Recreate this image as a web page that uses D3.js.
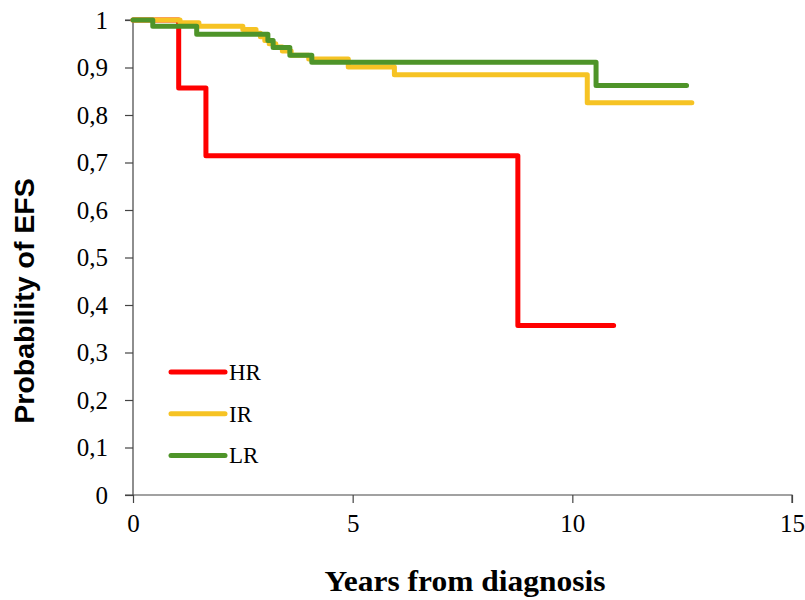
<!DOCTYPE html>
<html>
<head>
<meta charset="utf-8">
<script src="https://cdn.jsdelivr.net/npm/d3@7"></script>
<style>
  html, body { margin: 0; padding: 0; background: #ffffff; }
  svg { display: block; }
</style>
</head>
<body>
<svg id="chart" width="805" height="600"></svg>
<script>
// ---- data ----
const seriesNames = ["HR", "IR", "LR"];
const hrTimes  = [0, 1.04, 1.66, 8.76, 10.94];
const hrValues = [1, 0.857, 0.714, 0.357, 0.357];
const irTimes  = [0, 1.07, 1.5, 2.5, 2.8, 2.9, 3.0, 3.1, 3.25, 3.4, 3.6, 4.0, 4.9, 5.95, 10.34, 12.72];
const irValues = [1, 0.994, 0.987, 0.980, 0.972, 0.965, 0.957, 0.950, 0.943, 0.935, 0.926, 0.918, 0.901, 0.885, 0.826, 0.826];
const lrTimes  = [0, 0.45, 1.45, 3.07, 3.19, 3.57, 4.07, 10.54, 12.6];
const lrValues = [1, 0.987, 0.970, 0.957, 0.942, 0.926, 0.911, 0.862, 0.862];
const xTicks = [0, 5, 10, 15];
const yTicks = [0, 0.1, 0.2, 0.3, 0.4, 0.5, 0.6, 0.7, 0.8, 0.9, 1];
const colors = ["#FF0000", "#F6C324", "#4E9429"];

const svg = d3.select("#chart");
const margin = {left: 133, right: 13, top: 20, bottom: 105};
const W = 805, H = 600;
const x = d3.scaleLinear().domain([0, 15]).range([margin.left, W - margin.right]);
const y = d3.scaleLinear().domain([0, 1]).range([H - margin.bottom, margin.top]);

const locale = d3.formatLocale({decimal: ",", thousands: ".", grouping: [3], currency: ["", ""]});
const yFmt = v => v === 0 || v === 1 ? String(v) : locale.format(".1f")(v);

const axisColor = "#444";
const tick = 8;
// Y axis
const yAxis = svg.append("g")
  .attr("transform", `translate(${x(0)},0)`)
  .call(d3.axisLeft(y).tickValues(yTicks).tickFormat(yFmt).tickSize(tick).tickPadding(17));
// X axis
const xAxis = svg.append("g")
  .attr("transform", `translate(0,${y(0)})`)
  .call(d3.axisBottom(x).tickValues(xTicks).tickFormat(d3.format("d")).tickSize(tick).tickPadding(11));
[yAxis, xAxis].forEach(g => {
  g.select(".domain").attr("stroke", axisColor).attr("stroke-width", 1.2);
  g.selectAll(".tick line").attr("stroke", axisColor).attr("stroke-width", 1.2);
  g.selectAll(".tick text")
    .attr("fill", "#000")
    .style("font-family", "'Liberation Serif', 'Times New Roman', serif")
    .style("font-size", "25px");
});
xAxis.select(".domain").attr("d", `M${x(0) - tick},0H${x(15)}V${tick}`);
yAxis.select(".domain").attr("d", `M0,${y(0)}V${y(1)}H${-tick}`);

// lines
const line = d3.line().x(d => x(d[0])).y(d => y(d[1])).curve(d3.curveStepAfter);
const series = [
  d3.zip(hrTimes, hrValues),
  d3.zip(irTimes, irValues),
  d3.zip(lrTimes, lrValues)
];
series.forEach((s, i) => {
  svg.append("path")
    .datum(s)
    .attr("d", line)
    .attr("fill", "none")
    .attr("stroke", colors[i])
    .attr("stroke-width", 5)
    .attr("stroke-linejoin", "round")
    .attr("stroke-linecap", "round");
});

// legend
const legend = svg.append("g");
seriesNames.forEach((name, i) => {
  const ly = 372 + i * 41.7;
  legend.append("line")
    .attr("x1", 171).attr("x2", 225)
    .attr("y1", ly).attr("y2", ly)
    .attr("stroke", colors[i]).attr("stroke-width", 5).attr("stroke-linecap", "round");
  legend.append("text")
    .attr("x", 229).attr("y", ly)
    .attr("dy", "0.35em")
    .style("font-family", "'Liberation Serif', 'Times New Roman', serif")
    .style("font-size", "23px")
    .text(name);
});

// axis titles
svg.append("text")
  .attr("x", 465)
  .attr("y", 591)
  .attr("text-anchor", "middle")
  .attr("textLength", 281)
  .attr("lengthAdjust", "spacingAndGlyphs")
  .style("font-family", "'Liberation Serif', 'Times New Roman', serif")
  .style("font-weight", "bold")
  .style("font-size", "30px")
  .text("Years from diagnosis");

svg.append("text")
  .attr("transform", `translate(34,301) rotate(-90)`)
  .attr("text-anchor", "middle")
  .style("font-family", "'Liberation Sans', Arial, sans-serif")
  .style("font-weight", "bold")
  .style("font-size", "28.5px")
  .text("Probability of EFS");
</script>
</body>
</html>
